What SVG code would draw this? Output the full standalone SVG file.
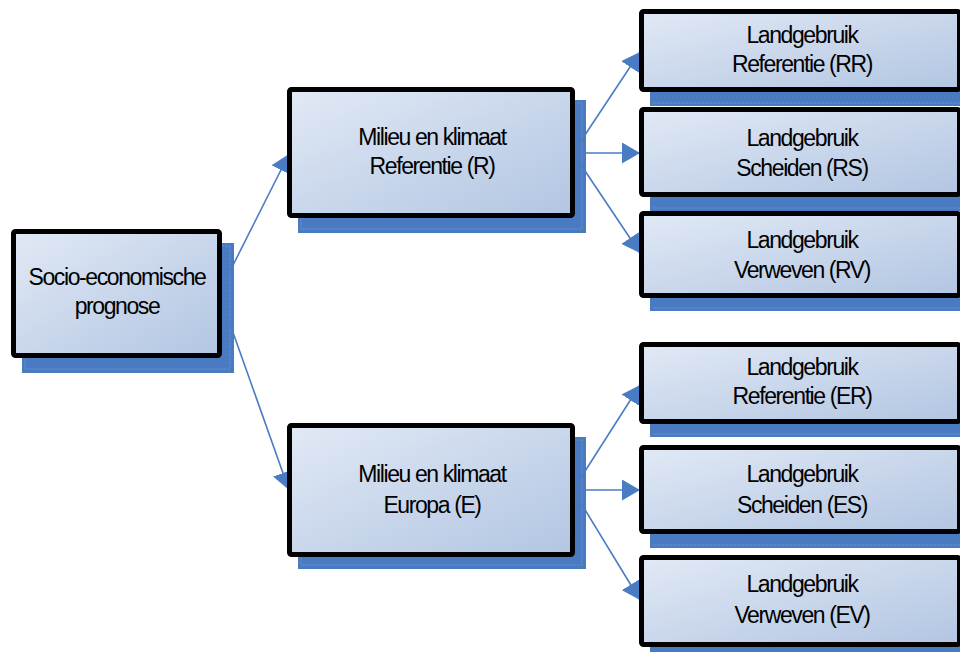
<svg xmlns="http://www.w3.org/2000/svg" width="960" height="652" viewBox="0 0 960 652">
  <defs>
    <linearGradient id="fill" x1="0" y1="0" x2="1" y2="1">
      <stop offset="0" stop-color="#e1e9f5"/>
      <stop offset="1" stop-color="#b2c5e2"/>
    </linearGradient>
    <marker id="arrow" markerUnits="userSpaceOnUse" markerWidth="19" markerHeight="21" refX="18" refY="10.5" orient="auto">
      <path d="M0,0 L18,10.5 L0,21 z" fill="#4a7cc3"/>
    </marker>
    <style>
      .shadow { fill: #4a7bc2; }
      .shadowline { fill: none; stroke: #8aaee0; stroke-width: 0.7; stroke-dasharray: 3 1; opacity: 0.6; }
      .box { fill: url(#fill); stroke: #000; stroke-width: 5; }
      .conn { fill: none; stroke: #4a7cc3; stroke-width: 1.6; }
      .lbl { font-family: "Liberation Sans", Arial, sans-serif; font-size: 23px; letter-spacing: -1.4px; fill: #000; text-anchor: middle; }
    </style>
  </defs>
  <rect width="960" height="652" fill="#ffffff"/>

  <!-- shadows -->
  <g id="shadows">
    <rect class="shadow" x="22" y="243" width="212" height="130"/>
    <rect class="shadowline" x="25" y="246" width="205" height="123"/>
    <rect class="shadow" x="298" y="100" width="288" height="133"/>
    <rect class="shadowline" x="301" y="103" width="281" height="126"/>
    <rect class="shadow" x="298" y="437" width="288" height="132"/>
    <rect class="shadowline" x="301" y="440" width="281" height="125"/>
    <rect class="shadow" x="650" y="23" width="320" height="83"/>
    <line class="shadowline" x1="653" y1="103" x2="960" y2="103"/>
    <rect class="shadow" x="650" y="121" width="320" height="90"/>
    <line class="shadowline" x1="653" y1="208" x2="960" y2="208"/>
    <rect class="shadow" x="650" y="225" width="320" height="86"/>
    <line class="shadowline" x1="653" y1="308" x2="960" y2="308"/>
    <rect class="shadow" x="650" y="356" width="320" height="81"/>
    <line class="shadowline" x1="653" y1="434" x2="960" y2="434"/>
    <rect class="shadow" x="650" y="459" width="320" height="89"/>
    <line class="shadowline" x1="653" y1="545" x2="960" y2="545"/>
    <rect class="shadow" x="650" y="569" width="320" height="91"/>
  </g>

  <!-- connectors -->
  <g id="connectors">
    <line class="conn" x1="219" y1="293" x2="289" y2="154" marker-end="url(#arrow)"/>
    <line class="conn" x1="219" y1="293" x2="289" y2="490" marker-end="url(#arrow)"/>
    <line class="conn" x1="573" y1="153" x2="640" y2="52" marker-end="url(#arrow)"/>
    <line class="conn" x1="573" y1="153" x2="640" y2="153" marker-end="url(#arrow)"/>
    <line class="conn" x1="573" y1="153" x2="640" y2="253" marker-end="url(#arrow)"/>
    <line class="conn" x1="573" y1="490" x2="640" y2="385" marker-end="url(#arrow)"/>
    <line class="conn" x1="573" y1="490" x2="640" y2="490" marker-end="url(#arrow)"/>
    <line class="conn" x1="573" y1="490" x2="640" y2="600" marker-end="url(#arrow)"/>
  </g>

  <g id="socio">
    <rect class="box" x="13.5" y="231.5" width="206" height="124" rx="2"/>
    <text class="lbl" x="117" y="285">Socio-economische</text>
    <text class="lbl" x="117" y="314">prognose</text>
  </g>

  <g id="milieu-r">
    <rect class="box" x="289.5" y="89.5" width="283" height="126" rx="2"/>
    <text class="lbl" x="432" y="145">Milieu en klimaat</text>
    <text class="lbl" x="432" y="174">Referentie (R)</text>
  </g>

  <g id="milieu-e">
    <rect class="box" x="289.5" y="425.5" width="283" height="129" rx="2"/>
    <text class="lbl" x="432" y="482">Milieu en klimaat</text>
    <text class="lbl" x="432" y="513">Europa (E)</text>
  </g>

  <g id="rr">
    <rect class="box" x="641.5" y="11.5" width="318" height="78" rx="2"/>
    <text class="lbl" x="802" y="43">Landgebruik</text>
    <text class="lbl" x="802" y="72">Referentie (RR)</text>
  </g>

  <g id="rs">
    <rect class="box" x="641.5" y="109.5" width="318" height="85" rx="2"/>
    <text class="lbl" x="802" y="146">Landgebruik</text>
    <text class="lbl" x="802" y="176">Scheiden (RS)</text>
  </g>

  <g id="rv">
    <rect class="box" x="641.5" y="213.5" width="318" height="82" rx="2"/>
    <text class="lbl" x="802" y="248">Landgebruik</text>
    <text class="lbl" x="802" y="278">Verweven (RV)</text>
  </g>

  <g id="er">
    <rect class="box" x="641.5" y="344.5" width="318" height="77" rx="2"/>
    <text class="lbl" x="802" y="375">Landgebruik</text>
    <text class="lbl" x="802" y="404">Referentie (ER)</text>
  </g>

  <g id="es">
    <rect class="box" x="641.5" y="447.5" width="318" height="84" rx="2"/>
    <text class="lbl" x="802" y="482">Landgebruik</text>
    <text class="lbl" x="802" y="513">Scheiden (ES)</text>
  </g>

  <g id="ev">
    <rect class="box" x="641.5" y="557.5" width="318" height="87" rx="2"/>
    <text class="lbl" x="802" y="592">Landgebruik</text>
    <text class="lbl" x="802" y="623">Verweven (EV)</text>
  </g>
</svg>
